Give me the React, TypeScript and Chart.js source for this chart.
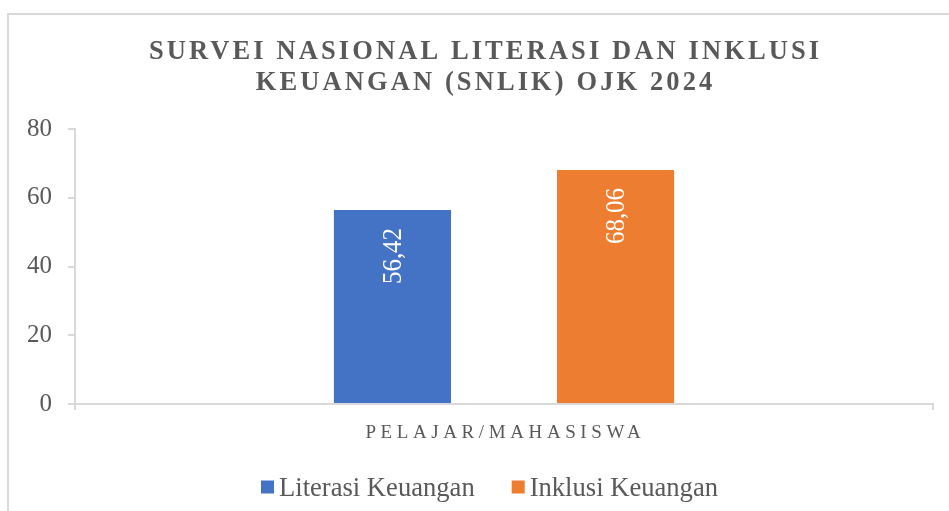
import React, { useEffect, useRef } from "react";
import { Chart, registerables } from "chart.js";

Chart.register(...registerables);

const categories = ["PELAJAR/MAHASISWA"];
const seriesNames = ["Literasi Keuangan", "Inklusi Keuangan"];
const literasi = [56.42];
const inklusi = [68.06];
const seriesColors = ["#4472C4", "#ED7D31"];
const titleLines = ["SURVEI NASIONAL LITERASI DAN INKLUSI", "KEUANGAN (SNLIK) OJK 2024"];
const yMin = 0;
const yMax = 80;
const yStep = 20;

const W = 949;
const H = 511;
const FONT = "'Liberation Serif', 'Times New Roman', serif";
const TEXT = "#595959";
const LINE = "#d9d9d9";

const fmt = (v: number) => v.toFixed(2).replace(".", ",");

function spacedText(ctx: any, text: string, cx: number, y: number, spacing: number) {
  ctx.letterSpacing = spacing + "px";
  ctx.textAlign = "left";
  const w = ctx.measureText(text).width - spacing;
  ctx.fillText(text, cx - w / 2, y);
  ctx.letterSpacing = "0px";
}

const decorPlugin = {
  id: "decor",
  afterDatasetsDraw(chart: any) {
    const ctx = chart.ctx;
    chart.data.datasets.forEach((ds: any, di: number) => {
      const meta = chart.getDatasetMeta(di);
      meta.data.forEach((el: any, i: number) => {
        const v = ds.data[i] as number;
        ctx.save();
        ctx.translate(el.x + 1, el.y + 18);
        ctx.rotate(-Math.PI / 2);
        ctx.scale(0.92, 1);
        ctx.font = `27px ${FONT}`;
        ctx.fillStyle = "#ffffff";
        ctx.textAlign = "right";
        ctx.textBaseline = "middle";
        ctx.fillText(fmt(v), 0, 0);
        ctx.restore();
      });
    });
  },
  afterDraw(chart: any) {
    const ctx = chart.ctx;
    ctx.save();
    // Title
    ctx.fillStyle = TEXT;
    ctx.font = `bold 26.5px ${FONT}`;
    ctx.textBaseline = "alphabetic";
    spacedText(ctx, titleLines[0], 484, 59, 3.1);
    spacedText(ctx, titleLines[1], 484, 90, 3.1);

    // Category label
    const xs = chart.scales.x;
    ctx.font = `19px ${FONT}`;
    categories.forEach((c, i) => {
      spacedText(ctx, c, xs.getPixelForTick(i) - 1, 438, 4.6);
    });

    // Legend
    ctx.font = `26.6px ${FONT}`;
    const box = 13;
    const gapBox = 5;
    const gapItem = 37;
    const widths = seriesNames.map((n) => ctx.measureText(n).width);
    let total = 0;
    widths.forEach((w, i) => {
      total += box + gapBox + w + (i > 0 ? gapItem : 0);
    });
    let x = 489.5 - total / 2;
    seriesNames.forEach((n, i) => {
      ctx.fillStyle = seriesColors[i];
      ctx.fillRect(x, 480.5, box, box);
      x += box + gapBox;
      ctx.fillStyle = TEXT;
      ctx.fillText(n, x, 496);
      x += widths[i] + gapItem;
    });
    ctx.restore();
  },
};

export default function App() {
  const ref = useRef<HTMLCanvasElement | null>(null);

  useEffect(() => {
    if (!ref.current) return;
    const chart = new Chart(ref.current, {
      type: "bar",
      data: {
        labels: categories,
        datasets: [
          {
            label: seriesNames[0],
            data: literasi,
            backgroundColor: seriesColors[0],
            borderWidth: 0,
            categoryPercentage: 0.52,
            barPercentage: 0.525,
          },
          {
            label: seriesNames[1],
            data: inklusi,
            backgroundColor: seriesColors[1],
            borderWidth: 0,
            categoryPercentage: 0.52,
            barPercentage: 0.525,
          },
        ],
      },
      options: {
        responsive: false,
        animation: false,
        devicePixelRatio: 1,
        layout: { padding: { left: 0, right: 16, top: 129, bottom: 97 } },
        plugins: {
          legend: { display: false },
          title: { display: false },
          tooltip: { enabled: false },
        },
        scales: {
          x: {
            ticks: { display: true, color: "rgba(0,0,0,0)", font: { size: 1 } },
            grid: {
              offset: true,
              drawOnChartArea: false,
              drawTicks: true,
              tickLength: 6,
              color: LINE,
              lineWidth: 2,
            },
            border: { display: true, color: LINE, width: 2 },
            afterFit(scale: any) {
              scale.height = 10;
            },
          },
          y: {
            min: yMin,
            max: yMax,
            ticks: {
              stepSize: yStep,
              color: TEXT,
              font: { family: FONT, size: 25 },
              padding: 16,
            },
            grid: {
              drawOnChartArea: false,
              drawTicks: true,
              tickLength: 7,
              color: LINE,
              lineWidth: 2,
            },
            border: { display: true, color: LINE, width: 2 },
            afterFit(scale: any) {
              scale.width = 75;
            },
          },
        },
      },
      plugins: [decorPlugin],
    });
    return () => chart.destroy();
  }, []);

  return (
    <div
      style={{
        position: "fixed",
        left: 0,
        top: 0,
        width: W,
        height: H,
        background: "#ffffff",
        overflow: "hidden",
      }}
    >
      <div
        style={{
          position: "absolute",
          left: 7,
          top: 13,
          right: 0,
          bottom: 0,
          borderLeft: `2px solid ${LINE}`,
          borderTop: `2px solid ${LINE}`,
        }}
      />
      <canvas
        ref={ref}
        width={W}
        height={H}
        style={{ position: "absolute", left: 0, top: 0, width: W, height: H }}
      />
    </div>
  );
}
